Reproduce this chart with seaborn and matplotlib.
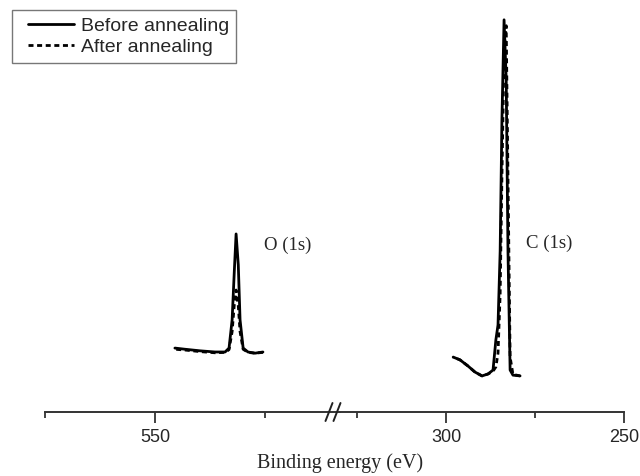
import numpy as np
import pandas as pd
import matplotlib
matplotlib.use("Agg")
import matplotlib.pyplot as plt
from matplotlib.lines import Line2D
from matplotlib.legend_handler import HandlerLine2D
import seaborn as sns

# O (1s) region, binding energy (eV) and intensity (a.u.)
o_energy = [545.5, 543.2, 539.8, 536.4, 534.1, 533.2, 532.5, 532.0, 531.6,
            531.1, 530.7, 530.0, 528.9, 527.3, 525.5]
o_before = [16.3, 16.0, 15.6, 15.3, 15.3, 16.3, 23.5, 36.0, 45.4,
            37.5, 23.5, 16.3, 15.3, 15.0, 15.3]
o_after = [16.0, 15.8, 15.4, 15.1, 15.2, 15.9, 20.5, 27.5, 31.1,
           27.0, 20.5, 16.0, 15.2, 15.0, 15.2]

# C (1s) region
c_energy = [298.0, 296.1, 293.8, 291.9, 289.9, 288.2, 286.8, 286.0, 285.4,
            284.8, 284.3, 283.7, 283.1, 282.6, 282.0, 281.2, 279.2]
c_before = [14.0, 13.3, 11.7, 10.2, 9.2, 9.7, 10.7, 18.4, 22.2,
            41.0, 74.5, 100.0, 84.7, 41.0, 10.7, 9.4, 9.2]
c_after = [14.0, 13.3, 11.7, 10.2, 9.2, 9.7, 10.4, 11.5, 15.0,
           30.0, 60.0, 92.0, 98.5, 60.0, 14.0, 9.6, 9.2]

labels = ["Before annealing", "After annealing"]


def long_df(energy, before, after):
    d1 = pd.DataFrame({"energy": energy, "intensity": before, "sample": labels[0]})
    d2 = pd.DataFrame({"energy": energy, "intensity": after, "sample": labels[1]})
    return pd.concat([d1, d2], ignore_index=True)


o_df = long_df(o_energy, o_before, o_after)
c_df = long_df(c_energy, c_before, c_after)

sns.set_style("white")
plt.rcParams["font.family"] = ["Liberation Sans", "DejaVu Sans"]

fig = plt.figure(figsize=(6.4, 4.76), dpi=100)
bottom = 1 - 412 / 476
top = 1 - 10 / 476
x0, xb, x1 = 45 / 640, 340 / 640, 624 / 640
ax1 = fig.add_axes([x0, bottom, xb - x0, top - bottom])
ax2 = fig.add_axes([xb, bottom, x1 - xb, top - bottom])

pal = {labels[0]: "black", labels[1]: "black"}
dash = {labels[0]: "", labels[1]: (1.8, 1.3)}
sns.lineplot(data=o_df, x="energy", y="intensity", hue="sample", style="sample",
             palette=pal, dashes=dash, linewidth=2.0, ax=ax1)
sns.lineplot(data=c_df, x="energy", y="intensity", hue="sample", style="sample",
             palette=pal, dashes=dash, linewidth=2.0, ax=ax2, legend=False)

ax1.set_xlim(575, 508)
ax2.set_xlim(329.8, 250)
for ax in (ax1, ax2):
    ax.set_ylim(0, 102.5)
    ax.set_yticks([])
    ax.set_xlabel("")
    ax.set_ylabel("")
    for s in ("top", "left", "right"):
        ax.spines[s].set_visible(False)
    ax.spines["bottom"].set_color("#333333")
    ax.spines["bottom"].set_linewidth(1.4)
    ax.tick_params(axis="x", which="major", direction="out", length=8, width=1.3,
                   color="#333333", bottom=True, labelsize=13, pad=4)
    ax.tick_params(axis="x", which="minor", direction="out", length=4, width=1.3,
                   color="#333333", bottom=True)

ax1.set_xticks([550])
ax1.set_xticks([575, 525], minor=True)
ax2.set_xticks([300, 250])
ax2.set_xticks([325, 275], minor=True)

# axis break marks
yb = bottom
for dx in (-4, 4):
    xc = (333 + dx) / 640
    fig.add_artist(plt.Line2D([xc - 3.5 / 640, xc + 3.5 / 640],
                              [yb - 9 / 476, yb + 9 / 476],
                              color="#222222", lw=1.4))

serif = ["Liberation Serif", "DejaVu Serif"]
ax1.text(519.8, 42.6, "O (1s)", family=serif, fontsize=13.5, ha="center", va="center")
ax2.text(271.1, 43.1, "C (1s)", family=serif, fontsize=13.5, ha="center", va="center")
fig.text(340 / 640, 1 - 463 / 476, "Binding energy (eV)", family=serif,
         fontsize=14.5, ha="center", va="center")

h, l = ax1.get_legend_handles_labels()
ax1.legend(h, l, loc="upper left", bbox_to_anchor=(12 / 640, 1 - 10 / 476),
           bbox_transform=fig.transFigure, borderaxespad=0, fontsize=14,
           frameon=True, fancybox=False, edgecolor="#777777", framealpha=1,
           handlelength=2.8, labelspacing=0.15, borderpad=0.38, handletextpad=0.36,
           handler_map={Line2D: HandlerLine2D(xpad=0.42)})

fig.savefig("out.png", dpi=100)
